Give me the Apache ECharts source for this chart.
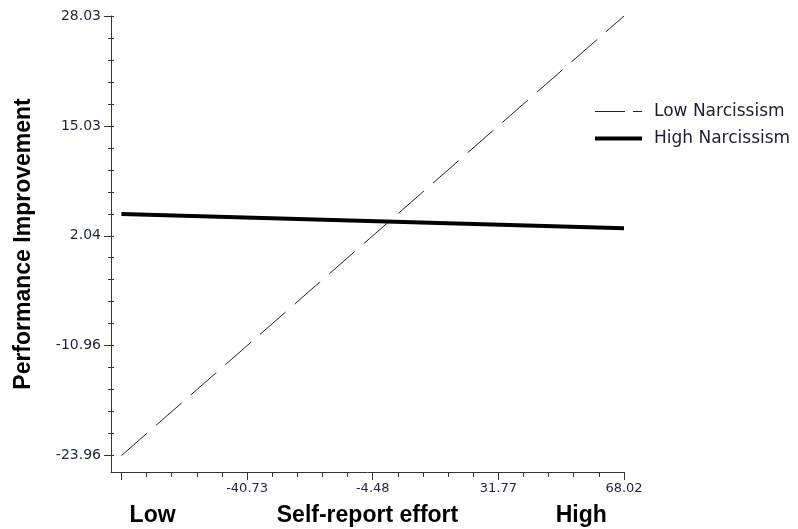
<!DOCTYPE html>
<html>
<head>
<meta charset="utf-8">
<script src="https://cdn.jsdelivr.net/npm/echarts@6/dist/echarts.min.js"></script>
<style>
  html, body { margin: 0; padding: 0; background: #ffffff; }
  #chart { width: 798px; height: 529px; }
</style>
</head>
<body>
<div id="chart"></div>
<script>
// Simple slopes: performance improvement vs self-report effort
var effortEnds = [-76.98, 68.02];
var lowNarcissism = [-23.96, 28.03];
var highNarcissism = [4.62, 2.93];

var seriesNames = ['Low Narcissism', 'High Narcissism'];

// x axis ticks (every 7.25) and labelled ticks
var xTicks = [-76.98, -69.73, -62.48, -55.23, -47.98, -40.73, -33.48, -26.23, -18.98, -11.73,
              -4.48, 2.77, 10.02, 17.27, 24.52, 31.77, 39.02, 46.27, 53.52, 60.77, 68.02];
var xMajorTicks = [-76.98, -40.73, -4.48, 31.77, 68.02];
var xTickLabels = ['-40.73', '-4.48', '31.77', '68.02'];
var xTickLabelValues = [-40.73, -4.48, 31.77, 68.02];

// end labels under the x axis
var xEndLabels = ['Low', 'High'];
var xEndLabelValues = [-68.0, 55.7];

// y axis ticks (every 2.6) and labelled ticks
var yTicks = [28.03, 25.43, 22.83, 20.23, 17.63, 15.03, 12.43, 9.83, 7.23, 4.63, 2.04,
              -0.56, -3.16, -5.76, -8.36, -10.96, -13.56, -16.16, -18.76, -21.36, -23.96];
var yTickLabels = ['28.03', '15.03', '2.04', '-10.96', '-23.96'];
var yTickLabelValues = [28.03, 15.03, 2.04, -10.96, -23.96];

var X_MIN = -80, X_MAX = 68.02;
var Y_MIN = -25.9, Y_MAX = 28.03;

var axisColor = '#333333';
var tickTextColor = '#1f2538';
var boldFont = '"Liberation Sans", Arial, sans-serif';
var regFont = '"DejaVu Sans", sans-serif';

function pairs(xs, ys) {
  return xs.map(function (x, i) { return [x, ys[i]]; });
}
function labelFor(values, labels) {
  return function (v) {
    for (var i = 0; i < values.length; i++) {
      if (Math.abs(values[i] - v) < 1e-6) return labels[i];
    }
    return '';
  };
}

var chart = echarts.init(document.getElementById('chart'), null, { renderer: 'canvas' });

var baseX = { type: 'value', min: X_MIN, max: X_MAX, position: 'bottom', splitLine: { show: false } };
var baseY = { type: 'value', min: Y_MIN, max: Y_MAX, position: 'left', splitLine: { show: false } };
var hiddenSymbol = { opacity: 0, color: 'transparent', borderWidth: 0 };

chart.setOption({
  backgroundColor: '#ffffff',
  animation: false,
  grid: { left: 111, top: 16, width: 513, height: 456, containLabel: false, outerBoundsMode: 'none' },
  legend: {
    orient: 'vertical',
    left: 593,
    top: 103,
    padding: 0,
    itemWidth: 47,
    itemHeight: 17,
    itemGap: 10,
    textStyle: { fontFamily: regFont, fontSize: 17, color: '#1e1e30', padding: [0, 0, 0, 7] },
    data: [
      { name: seriesNames[0], itemStyle: hiddenSymbol, lineStyle: { type: [30, 8], width: 1, color: '#222' } },
      { name: seriesNames[1], itemStyle: hiddenSymbol, lineStyle: { width: 4, color: '#000' } }
    ]
  },
  xAxis: [
    Object.assign({}, baseX, {
      name: 'Self-report effort',
      nameLocation: 'middle',
      nameGap: 32,
      nameTextStyle: { fontFamily: boldFont, fontWeight: 'bold', fontSize: 23, color: '#000' },
      axisLine: { show: true, onZero: false, lineStyle: { color: axisColor, width: 1 } },
      axisTick: { show: true, inside: false, length: 5, customValues: xTicks, lineStyle: { color: axisColor } },
      axisLabel: { show: false }
    }),
    Object.assign({}, baseX, {
      axisLine: { show: false, onZero: false },
      axisTick: { show: true, inside: false, length: 8, customValues: xMajorTicks, lineStyle: { color: axisColor } },
      axisLabel: {
        show: true, margin: 10, customValues: xTickLabelValues,
        formatter: labelFor(xTickLabelValues, xTickLabels),
        fontFamily: regFont, fontSize: 13, color: tickTextColor
      }
    }),
    Object.assign({}, baseX, {
      axisLine: { show: false, onZero: false },
      axisTick: { show: false },
      axisLabel: {
        show: true, margin: 32, customValues: xEndLabelValues,
        formatter: labelFor(xEndLabelValues, xEndLabels),
        fontFamily: boldFont, fontWeight: 'bold', fontSize: 23, color: '#000'
      }
    })
  ],
  yAxis: [
    Object.assign({}, baseY, {
      name: 'Performance Improvement',
      nameLocation: 'middle',
      nameRotate: 90,
      nameGap: 76,
      nameTextStyle: { fontFamily: boldFont, fontWeight: 'bold', fontSize: 23, color: '#000' },
      axisLine: { show: true, onZero: false, lineStyle: { color: axisColor, width: 1 } },
      axisTick: { show: true, inside: false, length: 3, customValues: yTicks, lineStyle: { color: axisColor } },
      axisLabel: { show: false }
    }),
    Object.assign({}, baseY, {
      axisLine: { show: false, onZero: false },
      axisTick: { show: true, inside: true, length: 3, customValues: yTicks, lineStyle: { color: axisColor } },
      axisLabel: { show: false }
    }),
    Object.assign({}, baseY, {
      axisLine: { show: false, onZero: false },
      axisTick: { show: true, inside: false, length: 7, customValues: yTickLabelValues, lineStyle: { color: axisColor } },
      axisLabel: {
        show: true, margin: 10, customValues: yTickLabelValues,
        formatter: labelFor(yTickLabelValues, yTickLabels),
        fontFamily: regFont, fontSize: 14, color: tickTextColor
      }
    })
  ],
  series: [
    {
      name: seriesNames[0],
      type: 'line',
      xAxisIndex: 0,
      yAxisIndex: 0,
      symbol: 'none',
      data: pairs(effortEnds, lowNarcissism),
      lineStyle: { type: [34, 12], width: 1, color: '#222' },
      itemStyle: { color: '#222' }
    },
    {
      name: seriesNames[1],
      type: 'line',
      xAxisIndex: 0,
      yAxisIndex: 0,
      symbol: 'none',
      data: pairs(effortEnds, highNarcissism),
      lineStyle: { width: 4, color: '#000' },
      itemStyle: { color: '#000' }
    }
  ]
});
</script>
</body>
</html>
